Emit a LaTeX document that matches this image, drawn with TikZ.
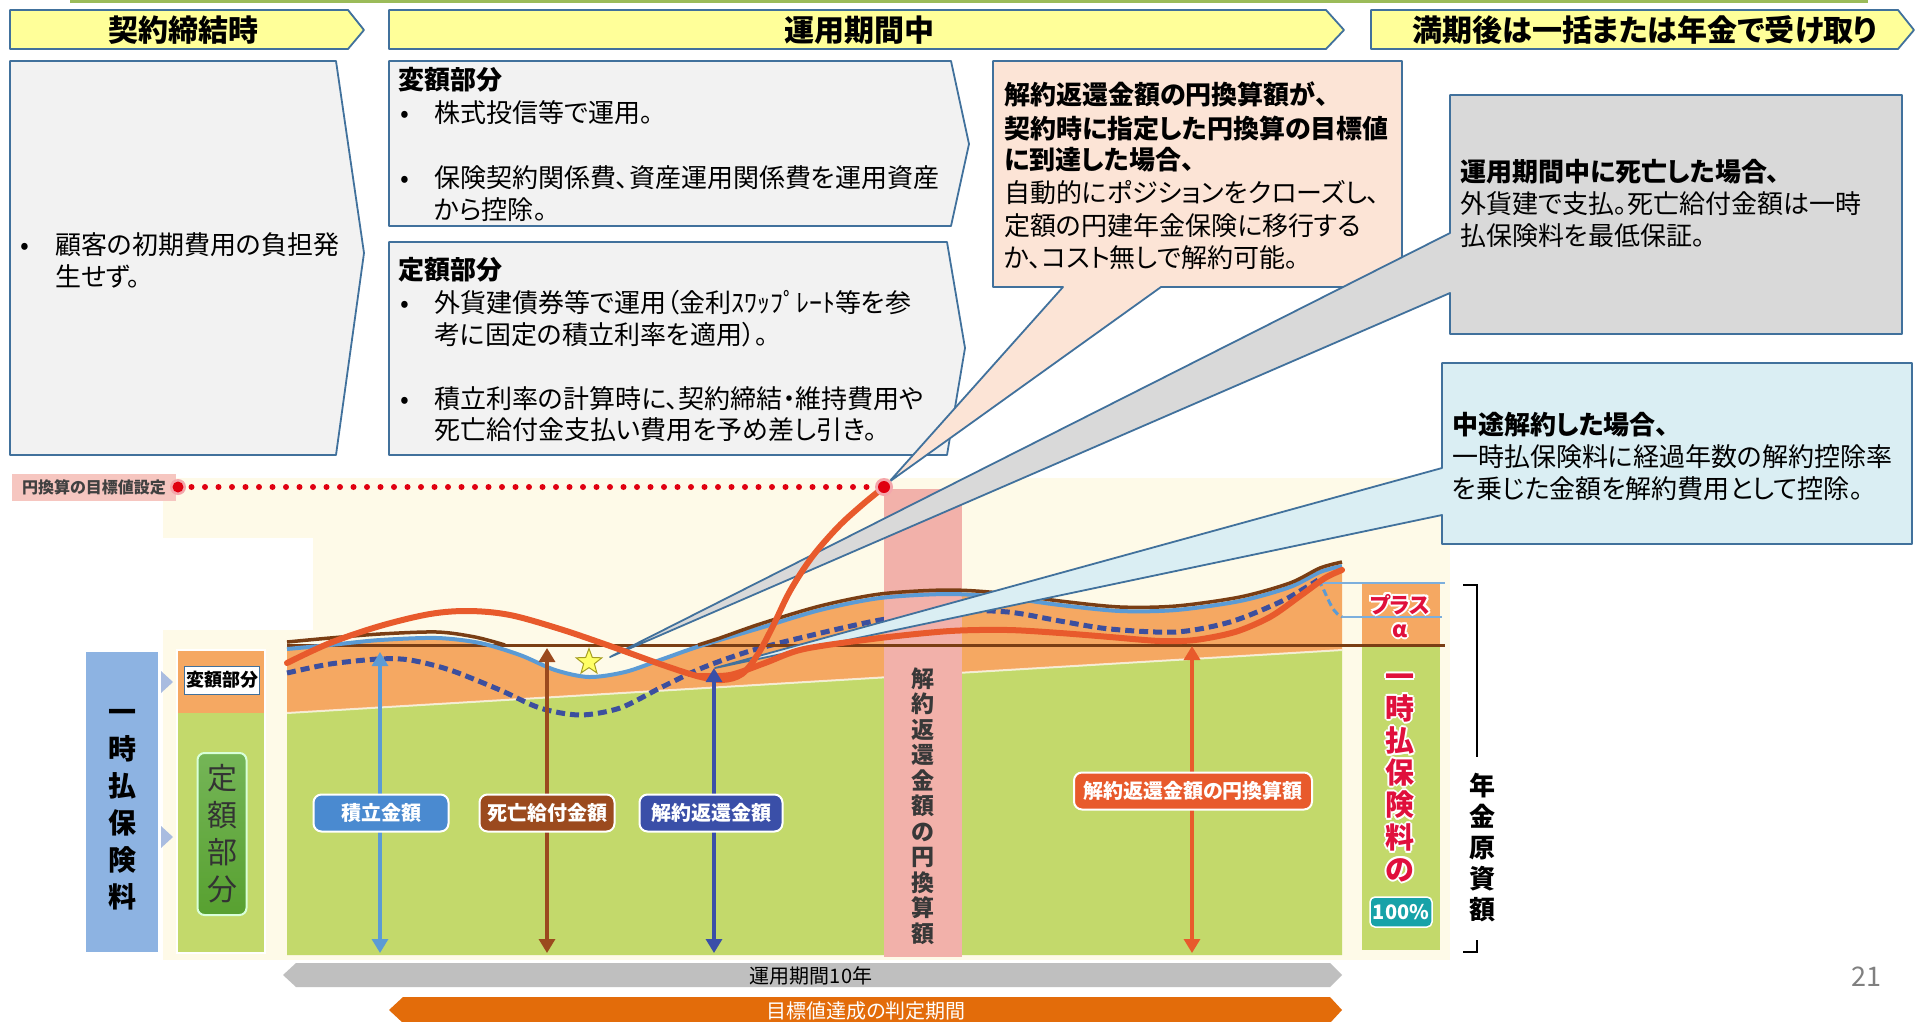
\documentclass[tikz,border=0pt]{standalone}
\usepackage{fontspec}
\setmainfont{Noto Sans CJK JP}[RawFeature=+palt]
\usetikzlibrary{arrows.meta,shapes.geometric}
\definecolor{bord}{HTML}{41719C}
\definecolor{hdrY}{HTML}{FFFF99}
\definecolor{boxG}{HTML}{F2F2F2}
\definecolor{peach}{HTML}{FCE4D6}
\definecolor{grayE}{HTML}{D9D9D9}
\definecolor{lblue}{HTML}{DAEEF3}
\definecolor{cream}{HTML}{FEFAE8}
\definecolor{grn}{HTML}{C3D96B}
\definecolor{org}{HTML}{F5A862}
\definecolor{pinkcol}{HTML}{F2B1AA}
\definecolor{brn}{HTML}{7A3E14}
\definecolor{blu}{HTML}{5B9BD5}
\definecolor{dblu}{HTML}{3C4F9E}
\definecolor{redc}{HTML}{E85A2C}
\definecolor{reddot}{HTML}{E00010}
\definecolor{starY}{HTML}{FFFF66}
\definecolor{topgrn}{HTML}{9BBB59}
\definecolor{lblbg}{HTML}{F6C6C0}
\definecolor{crim}{HTML}{E0103C}
\definecolor{teal}{HTML}{17A2A8}
\definecolor{barg}{HTML}{BFBFBF}
\definecolor{barO}{HTML}{E36C0A}
\definecolor{sidebl}{HTML}{8DB3E2}
\definecolor{tri}{HTML}{A9BCE0}
\definecolor{brnlab}{HTML}{9B4A1E}
\definecolor{blulab}{HTML}{4A8AD0}
\definecolor{dblulab}{HTML}{3A4FA8}
\newcommand{\outw}[1]{\leavevmode\rlap{\textcolor{white}{\kern-2pt#1}}\rlap{\textcolor{white}{\kern2pt#1}}\rlap{\textcolor{white}{\raisebox{2pt}{#1}}}\rlap{\textcolor{white}{\raisebox{-2pt}{#1}}}\rlap{\textcolor{white}{\kern-1.4pt\raisebox{1.4pt}{#1}}}\rlap{\textcolor{white}{\kern1.4pt\raisebox{1.4pt}{#1}}}\rlap{\textcolor{white}{\kern-1.4pt\raisebox{-1.4pt}{#1}}}\rlap{\textcolor{white}{\kern1.4pt\raisebox{-1.4pt}{#1}}}#1}
\begin{document}
\begin{tikzpicture}[x=1pt,y=-1pt,
  body/.style={font=\fontsize{26}{32}\selectfont, anchor=base west, inner sep=0pt},
  bodyb/.style={font=\bfseries\fontsize{26}{32}\selectfont, anchor=base west, inner sep=0pt},
  hdr/.style={font=\bfseries\fontsize{30}{36}\selectfont, inner sep=0pt},
  boxshape/.style={draw=bord, line width=1.8pt, line join=round},
  arr/.style={line width=3.2pt, {Triangle[width=16pt,length=14pt]}-{Triangle[width=16pt,length=14pt]}},
  tag/.style={rounded corners=8pt, draw=white, line width=2pt, text=white, font=\bfseries\fontsize{20}{24}\selectfont, minimum height=37pt, inner sep=3pt},
  vtext/.style={align=center, inner sep=0pt}
]
\useasboundingbox (0,0) rectangle (1916,1021);
\fill[white] (0,0) rectangle (1916,1021);
\fill[topgrn] (70,0) rectangle (1868,3);

% headers
\draw[boxshape, fill=hdrY] (10,10) -- (348,10) -- (364,30) -- (348,49) -- (10,49) -- cycle;
\node[hdr] (h1) at (183,30) {契約締結時};
\draw[boxshape, fill=hdrY] (389,10) -- (1326,10) -- (1344,30) -- (1326,49) -- (389,49) -- cycle;
\node[hdr] (h2) at (859,30) {運用期間中};
\draw[boxshape, fill=hdrY] (1371,10) -- (1898,10) -- (1914,30) -- (1898,49) -- (1371,49) -- cycle;
\node[hdr] (h3) at (1645,30) {満期後は一括または年金で受け取り};

% box A
\draw[boxshape, fill=boxG] (10,61) -- (336,61) -- (364,253) -- (336,455) -- (10,455) -- cycle;
\node[body] (a1b) at (20,254) {•};
\node[body] (a1) at (55,254) {顧客の初期費用の負担発};
\node[body] (a2) at (55,286) {生せず。};

% box B
\draw[boxshape, fill=boxG] (389,61) -- (951,61) -- (969,144) -- (951,226) -- (389,226) -- cycle;
\node[bodyb] (bt) at (398,89) {変額部分};
\node[body] (b1b) at (400,122) {•};
\node[body] (b1) at (434,122) {株式投信等で運用。};
\node[body] (b2b) at (400,187) {•};
\node[body] (b2) at (434,187) {保険契約関係費、資産運用関係費を運用資産};
\node[body] (b3) at (434,219) {から控除。};

% box C
\draw[boxshape, fill=boxG] (389,242) -- (947,242) -- (965,348) -- (947,455) -- (389,455) -- cycle;
\node[bodyb] (ct) at (398,279) {定額部分};
\node[body] (c1b) at (400,312) {•};
\node[body] (c1) at (434,312) {外貨建債券等で運用（金利ｽﾜｯﾌﾟﾚｰﾄ等を参};
\node[body] (c2) at (434,344) {考に固定の積立利率を適用）。};
\node[body] (c3b) at (400,408) {•};
\node[body] (c3) at (434,408) {積立利率の計算時に、契約締結・維持費用や};
\node[body] (c4) at (434,439) {死亡給付金支払い費用を予め差し引き。};

% ===== chart =====
\fill[cream] (163,478) rectangle (1450,960);
\fill[white] (163,538) rectangle (313,630);
\node[fill=lblbg, minimum width=164pt, minimum height=27pt, inner sep=0pt, text=black!75, font=\bfseries\fontsize{16}{18}\selectfont] (lbl) at (94,487) {円換算の目標値設定};
\coordinate (dotA) at (178,487);
\coordinate (dotB) at (884,487);

% left side
\fill[sidebl] (86,652) rectangle (158,952);
\node[vtext, font=\bfseries\fontsize{28}{37}\selectfont] (ichiji) at (122,810) {一\\時\\払\\保\\険\\料};
\fill[tri] (161,671) -- (173,682) -- (161,693) -- cycle;
\fill[tri] (161,826) -- (173,837) -- (161,848) -- cycle;
\fill[org] (177,650) rectangle (265,713);
\fill[grn] (177,713) rectangle (265,953);
\draw[white, line width=1.5pt] (177,650) rectangle (265,953);
\node[draw=bord, line width=1pt, fill=white, minimum width=75pt, minimum height=28pt, inner sep=0pt, font=\bfseries\fontsize{18}{20}\selectfont] (hengaku) at (222,680) {変額部分};
\node[vtext, draw=white!85!green, line width=2pt, rounded corners=7pt, minimum width=49pt, minimum height=162pt, top color=grn!60!green!70!black!80, bottom color=green!45!black!55!grn, text=black!80, font=\fontsize{30}{37}\selectfont] (teigaku) at (222,834) {定\\額\\部\\分};

% main green / orange
\fill[grn] (287,713) -- (1342,650) -- (1342,955) -- (287,955) -- cycle;
\fill[org] plot[smooth,tension=0.5] coordinates {(287,649) (330,645) (380,640) (437,638) (480,643) (520,655) (555,670) (589,677) (625,672) (660,660) (700,646) (760,628) (820,610) (880,598) (947,594) (1000,597) (1060,605) (1120,611) (1176,610) (1240,601) (1290,587) (1320,572) (1342,566)} -- (1342,650) -- (287,713) -- cycle;
\draw[white, line width=2pt, opacity=0.7] (287,713) -- (1342,650);

% dashed line
\draw[dblu, line width=5pt, dash pattern=on 9pt off 5pt] plot[smooth,tension=0.5] coordinates {(287,673) (330,664) (379,659) (410,660) (450,670) (500,690) (540,708) (580,715) (620,708) (660,688) (702,668) (750,651) (804,637) (880,620) (950,611) (1008,612) (1060,621) (1110,629) (1176,632) (1230,622) (1280,602) (1310,585) (1318,580)};
\draw[blu, line width=3pt, dash pattern=on 7pt off 4pt] (1318,580) .. controls (1326,590) and (1330,612) .. (1342,617);

% pink column
\fill[pinkcol] (884,489) rectangle (962,957);
\node[vtext, text=black!78, font=\bfseries\fontsize{23}{25.5}\selectfont] (kaiyakuv) at (923,806) {解\\約\\返\\還\\金\\額\\の\\円\\換\\算\\額};

% right column
\fill[org] (1362,583) rectangle (1440,647);
\fill[grn] (1362,647) rectangle (1440,950);
\draw[blu!80!white, line width=2pt] (1318,583) -- (1445,583);
\draw[blu!80!white, line width=2pt] (1342,617) -- (1442,617);

% brown base line and curves
\draw[brn, line width=3pt] (287,645) -- (1445,645);
\draw[blu, line width=4pt] plot[smooth,tension=0.5] coordinates {(287,649) (330,645) (380,640) (437,638) (480,643) (520,655) (555,670) (589,677) (625,672) (660,660) (700,646) (760,628) (820,610) (880,598) (947,594) (1000,597) (1060,605) (1120,611) (1176,610) (1240,601) (1290,587) (1320,572) (1342,566)};
\draw[brn, line width=3.5pt] plot[smooth,tension=0.5] coordinates {(287,642) (330,638) (380,634) (437,632) (475,637) (505,645)};
\draw[brn, line width=3.5pt] plot[smooth,tension=0.5] coordinates {(698,645) (720,638) (760,624) (820,606) (880,594) (947,590) (1000,593) (1060,601) (1120,607) (1176,606) (1240,597) (1290,583) (1320,568) (1342,562)};

% text in right column
\node[vtext, text=crim, font=\bfseries\fontsize{22}{24}\selectfont] (plus) at (1400,616) {\outw{プラス}\\\outw{α}};
\node[vtext, text=crim, font=\bfseries\fontsize{29}{31.5}\selectfont] (ichijiR) at (1400,778) {\outw{一}\\\outw{時}\\\outw{払}\\\outw{保}\\\outw{険}\\\outw{料}\\\outw{の}};
\node[fill=teal, draw=white, line width=1.5pt, rounded corners=5pt, text=white, minimum width=62pt, minimum height=30pt, inner sep=0pt, font=\bfseries\fontsize{20}{22}\selectfont] (pct) at (1401,912) {100\%};

% bracket
\node[vtext, font=\bfseries\fontsize{26}{31}\selectfont] (nenkin) at (1482,848) {年\\金\\原\\資\\額};
\coordinate (brA) at (1463,585);
\coordinate (brB) at (1477,585);
\coordinate (brC) at (1477,757);
\coordinate (brD) at (1477,940);
\coordinate (brE) at (1477,952);
\coordinate (brF) at (1463,952);
\draw[black, line width=2pt] (brA) -- (brB) -- (brC);
\draw[black, line width=2pt] (brD) -- (brE) -- (brF);

% callout D (peach)
\draw[boxshape, fill=peach] (993,61) -- (1402,61) -- (1402,287) -- (1161,287) -- (889,482) -- (1063,287) -- (993,287) -- cycle;
\node[bodyb] (d1) at (1004,104) {解約返還金額の円換算額が、};
\node[bodyb] (d2) at (1004,138) {契約時に指定した円換算の目標値};
\node[bodyb] (d3) at (1004,169) {に到達した場合、};
\node[body] (d4) at (1004,202) {自動的にポジションをクローズし、};
\node[body] (d5) at (1004,235) {定額の円建年金保険に移行する};
\node[body] (d6) at (1004,267) {か、コスト無しで解約可能。};

% callout E (gray)
\draw[boxshape, fill=grayE] (1450,95) -- (1902,95) -- (1902,334) -- (1450,334) -- (1450,293) -- (610,657) -- (1450,233) -- cycle;
\node[bodyb] (e1) at (1460,181) {運用期間中に死亡した場合、};
\node[body] (e2) at (1460,213) {外貨建で支払。死亡給付金額は一時};
\node[body] (e3) at (1460,245) {払保険料を最低保証。};

% callout F (light blue)
\draw[boxshape, fill=lblue] (1442,363) -- (1912,363) -- (1912,544) -- (1442,544) -- (1442,515) -- (715,668) -- (1442,468) -- cycle;
\node[bodyb] (f1) at (1452,434) {中途解約した場合、};
\node[body] (f2) at (1452,466) {一時払保険料に経過年数の解約控除率};
\node[body] (f3) at (1452,498) {を乗じた金額を解約費用として控除。};

% red dotted target line
\draw[reddot, line width=6pt, line cap=round, dash pattern=on 0pt off 13.5pt] (dotA) -- (dotB);
\fill[reddot!35] (dotA) circle (8);
\fill[reddot] (dotA) circle (5.5);

% red curves
\draw[redc, line width=6pt, line cap=round] plot[smooth,tension=0.55] coordinates {(287,663) (330,643) (380,626) (430,614) (469,611) (510,615) (560,629) (610,646) (660,664) (697,676) (722,680) (742,674) (758,654) (773,626) (790,591) (812,557) (838,527) (862,505) (884,487)};
\draw[redc, line width=6pt, line cap=round] plot[smooth,tension=0.5] coordinates {(697,676) (730,675) (765,663) (804,649) (880,638) (950,631) (1008,630) (1060,633) (1110,637) (1160,641) (1195,640) (1235,632) (1270,617) (1300,596) (1325,578) (1342,570)};
\fill[reddot!35] (dotB) circle (9);
\fill[reddot] (dotB) circle (6);

% star
\node[star, star points=5, star point ratio=2.4, minimum size=27pt, inner sep=0pt, fill=starY, draw=olive!80, line width=1pt] (star) at (589,662) {};

% arrows
\coordinate (p1t) at (380,652);
\coordinate (p1b) at (380,953);
\coordinate (p2t) at (547,648);
\coordinate (p2b) at (547,953);
\coordinate (p3t) at (714,668);
\coordinate (p3b) at (714,953);
\coordinate (p4t) at (1192,646);
\coordinate (p4b) at (1192,953);
\draw[arr, blu] (p1t) -- (p1b);
\draw[arr, brnlab] (p2t) -- (p2b);
\draw[arr, dblulab] (p3t) -- (p3b);
\draw[arr, redc] (p4t) -- (p4b);
\node[tag, fill=blulab, minimum width=135pt] (t1) at (381,813) {積立金額};
\node[tag, fill=brnlab, minimum width=135pt] (t2) at (547,813) {死亡給付金額};
\node[tag, fill=dblulab, minimum width=143pt] (t3) at (711,813) {解約返還金額};
\node[tag, fill=redc, minimum width=238pt] (t4) at (1193,791) {解約返還金額の円換算額};

% bottom bars
\fill[barg] (283,975) -- (296,963) -- (1330,963) -- (1342,975) -- (1330,987) -- (296,987) -- cycle;
\node[font=\fontsize{20}{22}\selectfont, inner sep=0pt] (period) at (811,976) {運用期間10年};
\fill[barO] (389,1010) -- (403,997) -- (1330,997) -- (1342,1010) -- (1330,1023) -- (403,1023) -- cycle;
\node[font=\fontsize{20}{22}\selectfont, text=white, inner sep=0pt] (judge) at (866,1011) {目標値達成の判定期間};

\node[font=\fontsize{27}{30}\selectfont, text=black!50, inner sep=0pt] (pageno) at (1866,977) {21};
\end{tikzpicture}
\end{document}
